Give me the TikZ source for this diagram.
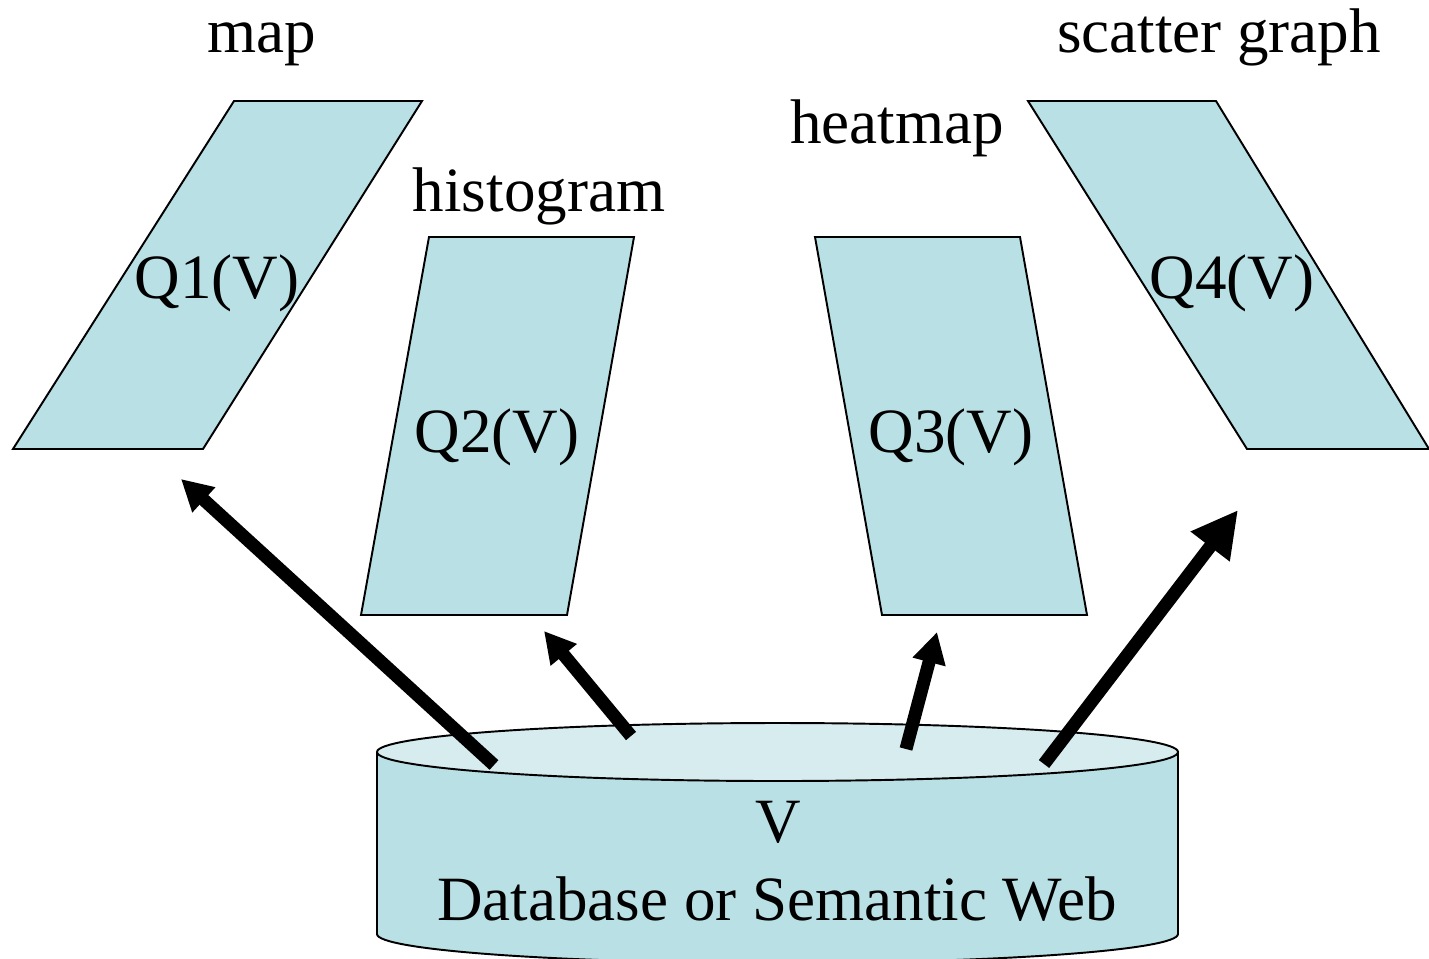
\documentclass[tikz,border=0pt]{standalone}
\usepackage{fontspec}
\setmainfont{Liberation Serif}
\usetikzlibrary{arrows.meta}

\definecolor{panelfill}{RGB}{185,224,228}
\definecolor{lidfill}{RGB}{214,236,239}

\tikzset{
  panel/.style={draw=black, line width=1.1pt, fill=panelfill, line join=miter},
  caption/.style={anchor=base, inner sep=0pt, font=\fontsize{35.9}{43}\selectfont},
  flow/.style={line width=7.4pt, draw=black,
    -{Triangle[length=0.62cm, width=0.64cm]}},
  bigflow/.style={line width=7.4pt, draw=black,
    -{Triangle[length=0.92cm, width=0.92cm]}}
}

\begin{document}
\begin{tikzpicture}[x=0.02cm, y=-0.02cm]
\useasboundingbox (0,0) rectangle (1429,958);

% query result panels
\draw[panel] (234,101) -- (422,101) -- (203,449) -- (13,449) -- cycle;
\draw[panel] (429,237) -- (634,237) -- (567,615) -- (361,615) -- cycle;
\draw[panel] (815,237) -- (1020,237) -- (1087,615) -- (882,615) -- cycle;
\draw[panel] (1028,101) -- (1216,101) -- (1429,449) -- (1247,449) -- cycle;

\node[caption] (q1) at (217,298) {Q1(V)};
\node[caption] (q2) at (497,452) {Q2(V)};
\node[caption] (q3) at (951,452) {Q3(V)};
\node[caption] (q4) at (1232,298) {Q4(V)};

\node[caption] (lmap)  at (262,52)  {map};
\node[caption] (lhist) at (539,211) {histogram};
\node[caption] (lheat) at (897,143) {heatmap};
\node[caption] (lscat) at (1219,52) {scatter graph};

% data store cylinder
\draw[panel] (377,752) -- (377,934)
  arc[start angle=180, end angle=0, x radius=400.5, y radius=29]
  -- (1178,752);
\draw[panel, fill=lidfill] (777.5,752) ellipse [x radius=400.5, y radius=29];

\node[caption] (v)  at (778,842) {V};
\node[caption] (db) at (777,920) {Database or Semantic Web};

% arrow end points
\coordinate (s1) at (494,765);
\coordinate (t1) at (181,479);
\coordinate (s2) at (631,736);
\coordinate (t2) at (544,631);
\coordinate (s3) at (906,749);
\coordinate (t3) at (937,632);
\coordinate (s4) at (1044,764);
\coordinate (t4) at (1238,510);

\draw[flow] (s1) -- (t1);
\draw[flow] (s2) -- (t2);
\draw[flow] (s3) -- (t3);
\draw[bigflow] (s4) -- (t4);
\end{tikzpicture}
\end{document}
